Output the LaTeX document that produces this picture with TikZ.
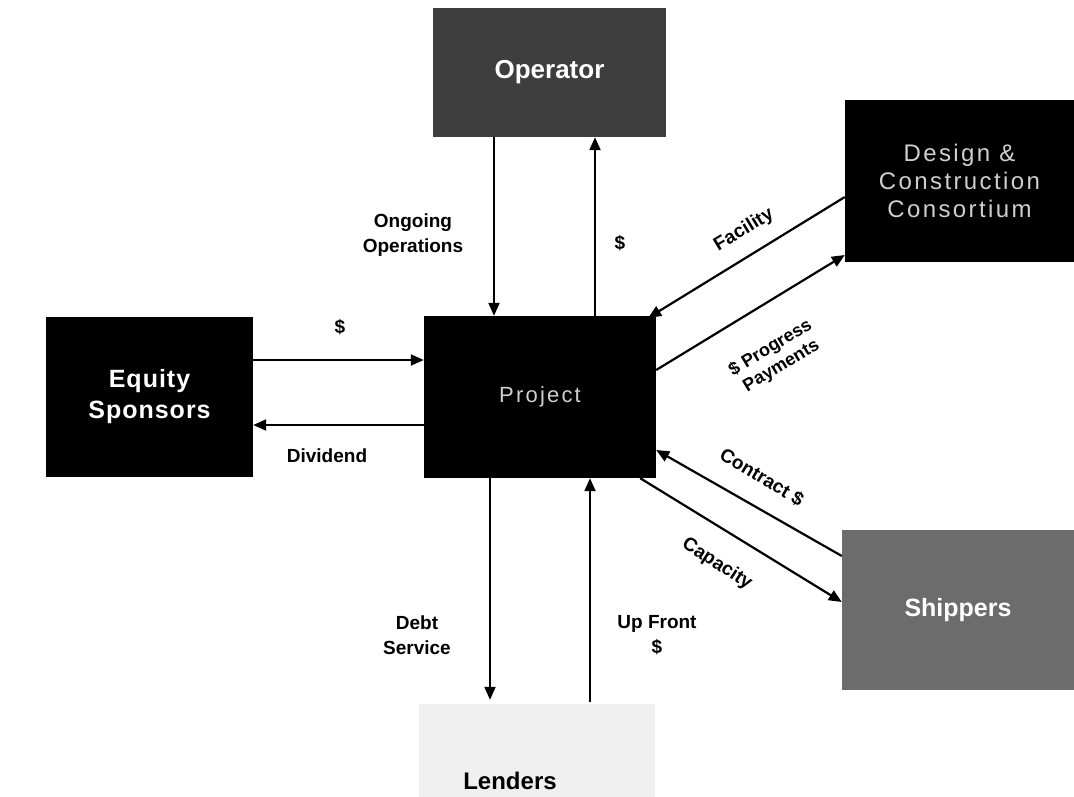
\documentclass[tikz,border=0pt]{standalone}
\usepackage{fontspec}
\setmainfont{Liberation Sans}
\usetikzlibrary{arrows.meta}
\definecolor{opgray}{HTML}{3E3E3E}
\definecolor{shgray}{HTML}{6C6C6C}
\definecolor{lengray}{HTML}{F0F0F0}
\definecolor{txtgray}{HTML}{CFCFCF}
\tikzset{
  box/.style={draw=none, inner sep=0pt, align=center},
  blackbox/.style={box, fill=black},
  flow/.style={line width=2.2pt, -{Triangle[length=13pt,width=11pt]}},
  lbl/.style={font=\fontsize{19}{25}\selectfont\bfseries, align=center, inner sep=1pt},
  boldtxt/.style={text=white, font=\fontsize{25}{31}\selectfont\bfseries\addfontfeature{LetterSpace=4}},
  thintxt/.style={text=txtgray, font=\fontsize{24}{28}\selectfont\addfontfeature{LetterSpace=10}}
}
\begin{document}
\begin{tikzpicture}[x=1pt,y=-1pt]
\useasboundingbox (0,0) rectangle (1074,796);
\fill[white] (0,0) rectangle (1074,796);
% boxes
\node[blackbox, boldtxt, minimum width=207pt, minimum height=160pt] (eq) at (149.5,397) {Equity\\Sponsors};
\node[blackbox, thintxt, font=\fontsize{22}{28}\selectfont\addfontfeature{LetterSpace=10}, minimum width=232pt, minimum height=162pt] (proj) at (540,397) {Project};
\node[box, fill=opgray, text=white, font=\fontsize{26}{30}\selectfont\bfseries, minimum width=233pt, minimum height=129pt] (op) at (549.5,72.5) {Operator};
\node[blackbox, thintxt, minimum width=229pt, minimum height=162pt] (des) at (959.5,181) {Design \&\\Construction\\Consortium};
\node[box, fill=shgray, text=white, font=\fontsize{25}{30}\selectfont\bfseries, minimum width=232pt, minimum height=160pt] (shp) at (958,610) {Shippers};
\node[box, fill=lengray, minimum width=236pt, minimum height=98pt] (len) at (537,753) {};
\node[lbl, font=\fontsize{24}{28}\selectfont\bfseries, anchor=base] (lentxt) at (510,789) {Lenders};
% connectors
\draw[flow] ([xshift=-55.5pt]op.south) -- ([xshift=-46pt]proj.north);
\draw[flow] ([xshift=55pt]proj.north) -- ([xshift=45.5pt]op.south);
\draw[flow] ([yshift=37pt]eq.east) -- ([yshift=37pt]proj.west);
\draw[flow] ([yshift=-28pt]proj.west) -- ([yshift=-28pt]eq.east);
\draw[flow] ([yshift=-16pt]des.west) -- ([xshift=-8pt,yshift=-2pt]proj.north east);
\draw[flow] ([yshift=27pt]proj.east) -- ([yshift=-74pt]des.west);
\draw[flow] ([yshift=54pt]shp.west) -- ([yshift=-53pt]proj.east);
\draw[flow] ([xshift=-16pt]proj.south east) -- ([yshift=8pt]shp.west);
\draw[flow] ([xshift=-50pt]proj.south) -- ([xshift=-47pt,yshift=4pt]len.north);
\draw[flow] ([xshift=53pt,yshift=2pt]len.north) -- ([xshift=50pt]proj.south);
% labels
\node[lbl] (l1) at (413,235) {Ongoing\\Operations};
\node[lbl] (l2) at (620,243) {\$};
\node[lbl] (l3) at (340,327) {\$};
\node[lbl] (l4) at (327,456) {Dividend};
\node[lbl] (l5) at (417,635) {Debt\\Service};
\node[lbl] (l6) at (657,635) {Up Front\\\$};
\node[lbl, rotate=31] (l7) at (744,230) {Facility};
\node[lbl, rotate=31, font=\fontsize{18}{21}\selectfont\bfseries] (l8) at (776,357) {\$ Progress\\Payments};
\node[lbl, rotate=-31] (l9) at (762,477) {Contract \$};
\node[lbl, rotate=-33] (l10) at (717,564) {Capacity};
\end{tikzpicture}
\end{document}
